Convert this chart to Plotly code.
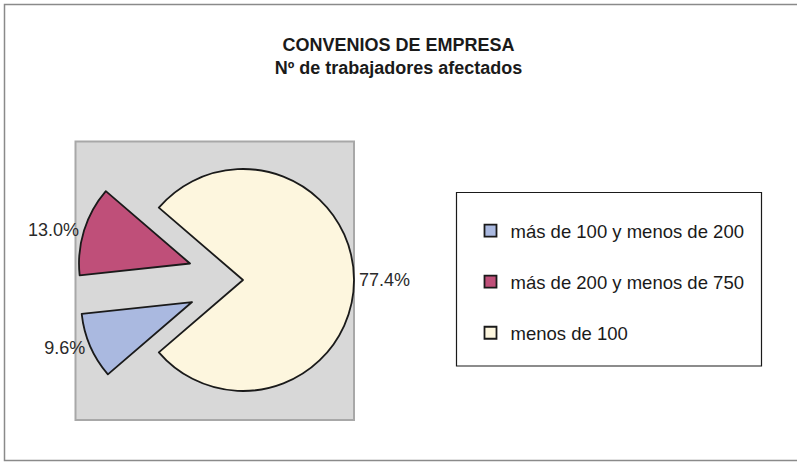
import plotly.graph_objects as go

W, H = 797, 462

categories = ["más de 100 y menos de 200", "más de 200 y menos de 750", "menos de 100"]
percentages = [9.6, 13.0, 77.4]
slice_colors = ["#aab9e0", "#bf4f79", "#fdf6de"]
pulls = [0.5, 0.5, 0.0]

title_lines = ["CONVENIOS DE EMPRESA", "Nº de trabajadores afectados"]

# start so that the gap between the pulled slices faces 9 o'clock
rotation = 270 - (percentages[0] + percentages[1]) * 3.6 / 2
if rotation > 180:
    rotation -= 360

def px_x(x):
    return x / W

def px_y(y):
    return 1 - y / H

# pie domain: center (243,280), radius 111, pull 0.5 -> half size 166.5
cx, cy, half = 243, 280, 111 * 1.5

legend_labels = [c + "<br> " for c in categories]

fig = go.Figure()
fig.add_trace(go.Pie(
    labels=legend_labels,
    values=percentages,
    sort=False,
    direction="clockwise",
    rotation=rotation,
    pull=pulls,
    marker=dict(colors=slice_colors, line=dict(color="#1a1a1a", width=1.8)),
    textinfo="percent",
    texttemplate="%{percent:.1%}",
    textposition="outside",
    textfont=dict(family="Liberation Sans, Arial, sans-serif", size=18, color="#2a2a2a"),
    domain=dict(x=[px_x(cx - half), px_x(cx + half)], y=[px_y(cy + half), px_y(cy - half)]),
    hoverinfo="label+percent",
    automargin=False,
))

shapes = [
    # outer chart border
    dict(type="rect", xref="paper", yref="paper", x0=px_x(4.5), x1=px_x(805), y0=px_y(460.5), y1=px_y(4.5),
         line=dict(color="#8a8a8a", width=1.5), fillcolor="rgba(0,0,0,0)", layer="below"),
    # plot area background
    dict(type="rect", xref="paper", yref="paper", x0=px_x(75.5), x1=px_x(354), y0=px_y(420), y1=px_y(141.5),
         line=dict(color="#a8a8a8", width=2), fillcolor="#d8d8d8", layer="below"),
    # legend box
    dict(type="rect", xref="paper", yref="paper", x0=px_x(456.5), x1=px_x(761.5), y0=px_y(366), y1=px_y(192.5),
         line=dict(color="#1a1a1a", width=1.2), fillcolor="rgba(0,0,0,0)", layer="below"),
]

fig.update_layout(
    width=W, height=H,
    autosize=False,
    margin=dict(l=0, r=0, t=0, b=0, pad=0, autoexpand=False),
    paper_bgcolor="white",
    plot_bgcolor="white",
    font=dict(family="Liberation Sans, Arial, sans-serif", color="#1a1a1a"),
    title=dict(
        text="<br>".join(title_lines),
        font=dict(size=18, color="#1a1a1a", weight="bold"),
        x=0.5, xanchor="center", xref="paper",
        y=px_y(51), yanchor="top", yref="paper",
    ),
    showlegend=True,
    legend=dict(
        x=px_x(470.5), xanchor="left",
        y=px_y(212), yanchor="top",
        bgcolor="rgba(0,0,0,0)",
        borderwidth=0,
        font=dict(size=18.5, color="#1a1a1a"),
        valign="top",
        traceorder="normal",
    ),
    shapes=shapes,
)

fig.write_html(
    "out.html",
    config={"displayModeBar": False},
    post_script="document.body.style.margin='0px';",
)
